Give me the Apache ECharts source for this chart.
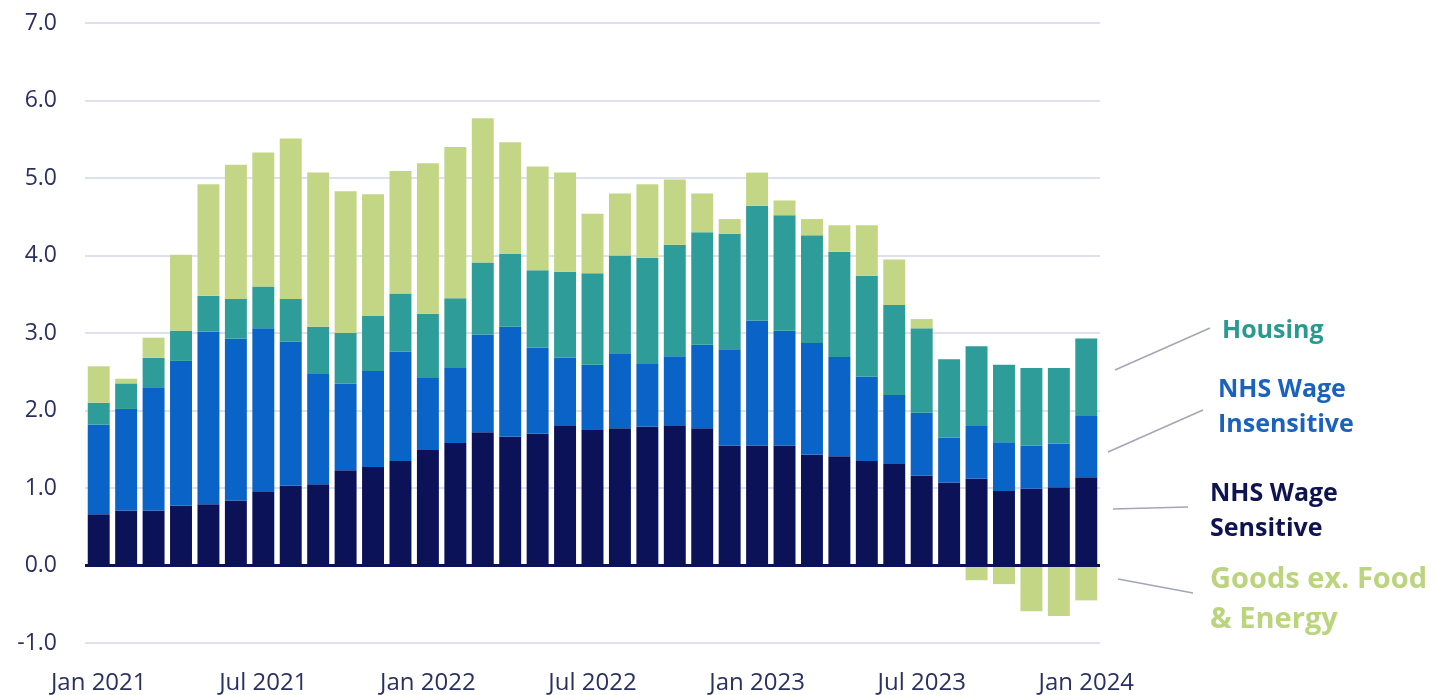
<!DOCTYPE html>
<html>
<head>
<meta charset="utf-8">
<script src="https://cdn.jsdelivr.net/npm/echarts@6/dist/echarts.min.js"></script>
<style>
  html, body { margin: 0; padding: 0; background: #fff; }
  #chart { width: 1435px; height: 695px; }
</style>
</head>
<body>
<div id="chart"></div>
<script>
    var months = ['Jan', 'Feb', 'Mar', 'Apr', 'May', 'Jun', 'Jul', 'Aug', 'Sep', 'Oct', 'Nov', 'Dec'];
    var categories = [];
    for (var y = 2021; y <= 2024; y++) {
        for (var m = 0; m < 12; m++) {
            if (y === 2024 && m > 0) break;
            categories.push(months[m] + ' ' + y);
        }
    }

    // contributions, Jan 2021 .. Jan 2024
    var wageSensitive = [0.66, 0.71, 0.71, 0.77, 0.79, 0.84, 0.95, 1.03, 1.05, 1.23, 1.27, 1.35,
        1.49, 1.58, 1.72, 1.66, 1.70, 1.81, 1.75, 1.77, 1.79, 1.81, 1.77, 1.55,
        1.55, 1.55, 1.43, 1.41, 1.35, 1.31, 1.16, 1.07, 1.12, 0.96, 0.99, 1.01, 1.14];
    var wageInsensitive = [1.16, 1.31, 1.59, 1.87, 2.23, 2.09, 2.11, 1.86, 1.42, 1.12, 1.24, 1.41,
        0.93, 0.97, 1.26, 1.42, 1.11, 0.87, 0.84, 0.97, 0.81, 0.89, 1.08, 1.24,
        1.61, 1.48, 1.44, 1.28, 1.09, 0.89, 0.81, 0.58, 0.68, 0.63, 0.56, 0.56, 0.79];
    var housing = [0.28, 0.33, 0.38, 0.39, 0.46, 0.51, 0.54, 0.55, 0.61, 0.65, 0.71, 0.75,
        0.83, 0.90, 0.93, 0.94, 1.00, 1.11, 1.18, 1.26, 1.37, 1.44, 1.45, 1.49,
        1.48, 1.49, 1.39, 1.36, 1.30, 1.16, 1.09, 1.01, 1.03, 1.00, 1.00, 0.98, 1.00];
    var goodsExFoodEnergy = [0.47, 0.06, 0.26, 0.98, 1.44, 1.73, 1.73, 2.07, 1.99, 1.83, 1.57, 1.58,
        1.94, 1.95, 1.86, 1.44, 1.34, 1.28, 0.77, 0.80, 0.95, 0.84, 0.50, 0.19,
        0.43, 0.19, 0.21, 0.34, 0.65, 0.59, 0.12, 0, -0.19, -0.24, -0.59, -0.65, -0.45];

    var yTicks = [-1, 0, 1, 2, 3, 4, 5, 6, 7];

    var colors = {
        sensitive: '#0c1257',
        insensitive: '#0a63c6',
        housing: '#2e9c98',
        goods: '#c3d685'
    };

    var chart = echarts.init(document.getElementById('chart'));

    function bar(name, data, color) {
        return {
            name: name,
            type: 'bar',
            stack: 'total',
            barCategoryGap: '20%',
            itemStyle: { color: color },
            data: data
        };
    }

    var series = [
        bar('NHS Wage Sensitive', wageSensitive, colors.sensitive),
        bar('NHS Wage Insensitive', wageInsensitive, colors.insensitive),
        bar('Housing', housing, colors.housing),
        bar('Goods ex. Food & Energy', goodsExFoodEnergy, colors.goods)
    ];
    series[0].markLine = {
        silent: true,
        symbol: 'none',
        label: { show: false },
        lineStyle: { color: '#0c1257', width: 3, type: 'solid' },
        data: [{ yAxis: 0 }]
    };

    var labelFont = '"Open Sans", sans-serif';
    var leaderColor = '#a3a6b4';

    function leader(x1, y1, x2, y2) {
        return {
            type: 'line',
            shape: { x1: x1, y1: y1, x2: x2, y2: y2 },
            style: { stroke: leaderColor, lineWidth: 1.5 }
        };
    }

    function note(text, x, y, color, size, lh) {
        return {
            type: 'text',
            x: x,
            y: y,
            style: {
                text: text,
                fill: color,
                font: 'bold ' + size + 'px ' + labelFont,
                lineHeight: lh,
                textVerticalAlign: 'top'
            }
        };
    }

    chart.setOption({
        animation: false,
        grid: { left: 85, right: 335, top: 23, bottom: 52 },
        xAxis: {
            type: 'category',
            data: categories,
            axisLine: { show: false, onZero: false },
            axisTick: { show: false },
            axisLabel: {
                interval: 5,
                margin: 28,
                color: '#2a3060',
                fontSize: 24,
                fontFamily: labelFont
            }
        },
        yAxis: {
            type: 'value',
            min: yTicks[0],
            max: yTicks[yTicks.length - 1],
            interval: 1,
            axisLine: { show: false },
            axisTick: { show: false },
            splitLine: { lineStyle: { color: '#dfe0ee', width: 2 } },
            axisLabel: {
                margin: 28,
                color: '#2a3060',
                fontSize: 23,
                fontFamily: labelFont,
                formatter: function (v) { return v.toFixed(1); }
            }
        },
        series: series,
        graphic: [
            leader(1115, 370, 1210, 328),
            leader(1108, 452, 1203, 410),
            leader(1113, 509, 1188, 507),
            leader(1118, 579, 1193, 593),
            note('Housing', 1222, 314, '#2a9a8f', 25, 34),
            note('NHS Wage\nInsensitive', 1218, 372, '#1a62bd', 25, 35),
            note('NHS Wage\nSensitive', 1210, 476, '#0f1450', 25, 35),
            note('Goods ex. Food\n& Energy', 1210, 560, '#bcd47e', 29, 40)
        ]
    });
</script>
</body>
</html>
